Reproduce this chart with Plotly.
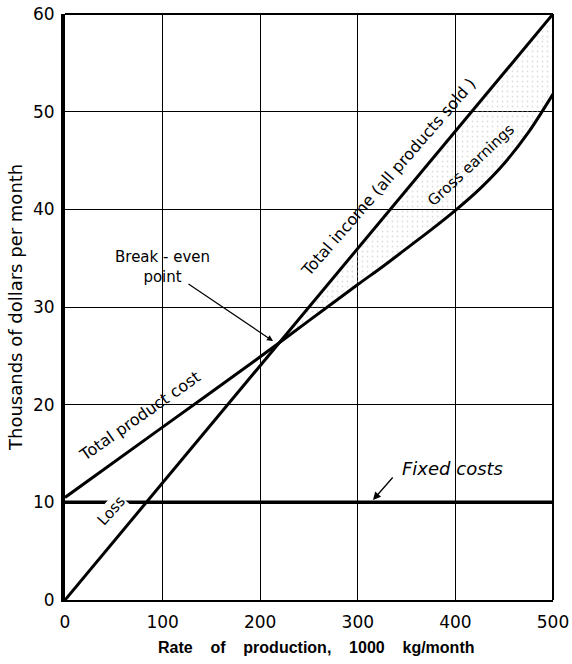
import numpy as np
import plotly.graph_objects as go

# ---- data ----
income_x = [0, 500]
income_y = [0, 60]

cost_x = [0, 100, 200, 250, 300, 325, 350, 375, 400, 425, 450, 475, 500]
cost_y = [10.5, 17.7, 24.9, 28.6, 32.3, 34.1, 36.0, 37.9, 39.9, 42.1, 44.7, 47.9, 51.8]

fixed_x = [0, 500]
fixed_y = [10, 10]

x_ticks = [0, 100, 200, 300, 400, 500]
y_ticks = [0, 10, 20, 30, 40, 50, 60]

W, H = 572, 664
L, R, T, B = 65, 19, 14, 64
PW, PH = W - L - R, H - T - B


def px(x):
    return (x - L) / PW


def py(y):
    return (H - B - y) / PH


FONT = "DejaVu Sans, sans-serif"

fig = go.Figure()

# stippled gross-earnings region between cost and income beyond break-even
gx = [x for x in cost_x if x >= 200]
gc = [c for x, c in zip(cost_x, cost_y) if x >= 200]
gi = list(np.interp(gx, income_x, income_y))
fig.add_trace(go.Scatter(
    x=gx + gx[::-1], y=gc + gi[::-1], fill="toself", mode="none",
    fillcolor="rgba(0,0,0,0)",
    fillpattern=dict(shape=".", fgcolor="#bbb", size=5, solidity=0.1),
    hoverinfo="skip", showlegend=False))

fig.add_trace(go.Scatter(x=income_x, y=income_y, mode="lines",
                         line=dict(color="black", width=3), showlegend=False))
fig.add_trace(go.Scatter(x=cost_x, y=cost_y, mode="lines",
                         line=dict(color="black", width=3, shape="spline", smoothing=0.8),
                         showlegend=False))
fig.add_trace(go.Scatter(x=fixed_x, y=fixed_y, mode="lines",
                         line=dict(color="black", width=3.5), showlegend=False))

ann = []


def text(s, x, y, size=15, angle=0, italic=False, bg=None):
    d = dict(text=s, x=px(x), y=py(y), xref="paper", yref="paper",
             showarrow=False, textangle=angle,
             font=dict(family=FONT, size=size, color="black",
                       style="italic" if italic else "normal"),
             xanchor="center", yanchor="middle")
    if bg:
        d["bgcolor"] = bg
        d["borderpad"] = 0
    ann.append(d)


text("Break - even<br>point", 162, 267, size=15)
text("Total product cost", 139, 416, size=16, angle=-35)
text("Loss", 111, 511, size=15, angle=-48, bg="white")
text("Total income (all products sold )", 388, 177, size=16, angle=-49)
text("Gross earnings", 471, 165, size=15, angle=-43)
text("Fixed costs", 452, 468, size=18, italic=True)

# arrows
ann.append(dict(x=px(273), y=py(341), xref="paper", yref="paper", text="",
                showarrow=True, ax=187 - 273, ay=283 - 341, arrowhead=2,
                arrowsize=1, arrowwidth=1.2, arrowcolor="black"))
ann.append(dict(x=px(373), y=py(500), xref="paper", yref="paper", text="",
                showarrow=True, ax=394 - 373, ay=476 - 500, arrowhead=2,
                arrowsize=1.2, arrowwidth=1.3, arrowcolor="black"))

# axis titles
sp = "&nbsp;" * 3 + " "
ann.append(dict(text="<b>Rate" + sp + "of" + sp + "production," + sp + "1000" + sp + "kg/month</b>",
                x=px(316), y=py(648), xref="paper", yref="paper", showarrow=False,
                font=dict(family="Liberation Sans Narrow, Liberation Sans, Arial, sans-serif",
                          size=16, color="black"),
                xanchor="center", yanchor="middle"))
ann.append(dict(text="Thousands of dollars per month", x=px(15), y=py(308),
                xref="paper", yref="paper", showarrow=False, textangle=-90,
                font=dict(family=FONT, size=18, color="black"),
                xanchor="center", yanchor="middle"))

fig.update_layout(
    width=W, height=H,
    margin=dict(l=L, r=R, t=T, b=B),
    paper_bgcolor="white", plot_bgcolor="white",
    annotations=ann,
    shapes=[dict(type="line", xref="paper", yref="paper", x0=1, x1=1, y0=0, y1=1,
                 line=dict(color="black", width=2)),
            dict(type="line", xref="paper", yref="paper", x0=0, x1=1, y0=1, y1=1,
                 line=dict(color="black", width=2))],
    xaxis=dict(range=[0, 500], tickvals=x_ticks, ticktext=[str(v) for v in x_ticks],
               showgrid=True, gridcolor="black", gridwidth=1, zeroline=False,
               showline=True, linecolor="black", linewidth=2, ticks="",
               ticklabelstandoff=6, automargin=False,
               tickfont=dict(family=FONT, size=17, color="black")),
    yaxis=dict(range=[0, 60], tickvals=y_ticks, ticktext=[str(v) for v in y_ticks],
               showgrid=True, gridcolor="black", gridwidth=1, zeroline=False,
               showline=True, linecolor="black", linewidth=4, ticks="",
               ticklabelstandoff=3, automargin=False,
               tickfont=dict(family=FONT, size=17, color="black")),
)

fig.write_html("out.html", config={"displayModeBar": False},
               post_script="document.body.style.margin='0';document.body.style.overflow='hidden';")
